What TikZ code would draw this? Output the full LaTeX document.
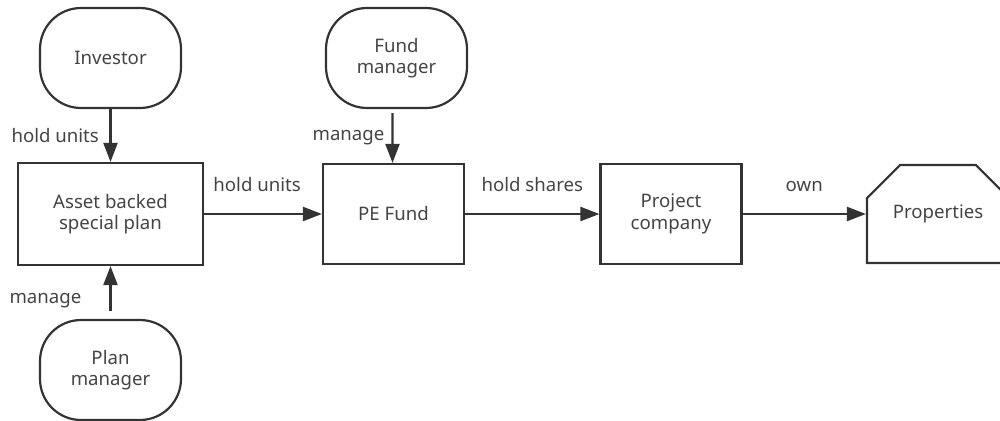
\documentclass[tikz,border=0pt]{standalone}
\usepackage{fontspec}
\setmainfont{Noto Sans}
\usetikzlibrary{arrows.meta,shapes.misc}
\definecolor{ln}{HTML}{333333}
\definecolor{tx}{HTML}{444444}
\tikzset{
  base/.style={draw=ln, line width=1.25pt, text=tx, font=\fontsize{10.6}{12.2}\selectfont, align=center, inner sep=0pt},
  term/.style={base, rounded corners=0.82cm, minimum width=2.82cm, minimum height=2.0cm},
  proc/.style={base, minimum width=3.7cm, minimum height=2.04cm},
  pbox/.style={base, minimum width=2.82cm, minimum height=2.0cm},
  store/.style={base, chamfered rectangle, chamfered rectangle corners={north west,north east}, chamfered rectangle xsep=0.48cm, chamfered rectangle ysep=0.48cm, minimum width=2.84cm, minimum height=1.96cm},
  conn/.style={draw=ln, line width=1.25pt, -{Triangle[length=0.38cm,width=0.28cm]}},
  lbl/.style={text=tx, font=\fontsize{10.6}{12.2}\selectfont, inner sep=0pt}
}
\begin{document}
\begin{tikzpicture}[x=0.02cm,y=-0.02cm]
\useasboundingbox (0,0) rectangle (1000,420);
\node[term] (inv) at (110.5,58) {Investor};
\node[proc] (abs) at (110.5,214) {Asset backed\\special plan};
\node[term] (pm) at (110.5,370) {Plan\\manager};
\node[term] (fm) at (396.5,58) {Fund\\manager};
\node[pbox] (pe) at (393.5,214) {PE Fund};
\node[pbox] (pc) at (671,214) {Project\\company};
\node[store] (pr) at (938,214) {Properties};

\draw[conn] (inv.south) -- (abs.north) node[lbl, pos=0.5, left=6pt] {hold units};
\draw[conn] (pm.north) ++(0,-8) coordinate (pmtop) -- (abs.south) node[lbl, pos=0.22, left=16pt] {manage};
\draw[conn] ([xshift=-0.08cm,yshift=-0.08cm]fm.south) -- ([xshift=-0.02cm]pe.north) node[lbl, pos=0.5, left=4pt] {manage};
\draw[conn] (abs.east) -- (pe.west) node[lbl, pos=0.45, above=12pt] {hold units};
\draw[conn] (pe.east) -- (pc.west) node[lbl, pos=0.5, above=12pt] {hold shares};
\draw[conn] (pc.east) -- (pr.west) node[lbl, pos=0.5, above=12pt] {own};
\end{tikzpicture}
\end{document}
